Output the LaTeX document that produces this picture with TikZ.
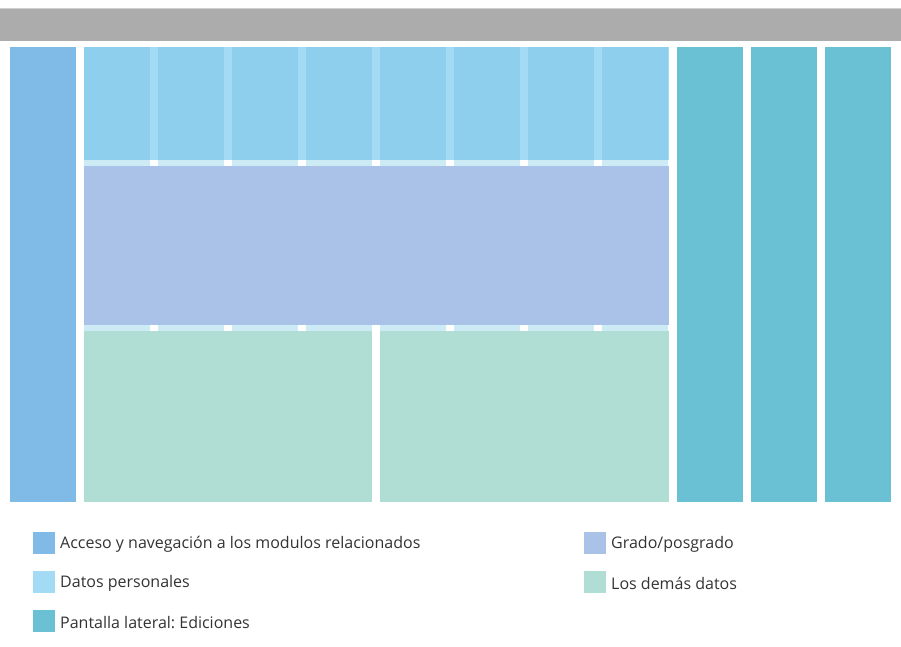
\documentclass[tikz,border=0pt]{standalone}
\usepackage{fontspec}
\setmainfont{Open Sans}
\usetikzlibrary{positioning}
\frenchspacing
\definecolor{barra}{HTML}{ACACAC}
\definecolor{barraborde}{HTML}{CFCFCF}
\definecolor{acceso}{HTML}{7FBBE6}
\definecolor{datos}{HTML}{8FCFEE}
\definecolor{datosclaro}{HTML}{A2DBF3}
\definecolor{franja}{HTML}{CDEBF5}
\definecolor{grado}{HTML}{AAC2E8}
\definecolor{demas}{HTML}{B0DED4}
\definecolor{lateral}{HTML}{6BC1D4}
\tikzset{
  cuadro/.style={minimum size=22pt, inner sep=0pt, outer sep=0pt},
  leyenda/.style={inner sep=0pt, anchor=west, yshift=-1.5pt, text=black!80, font=\fontsize{16}{18}\selectfont},
}
\begin{document}
\begin{tikzpicture}[x=1pt, y=-1pt]
  \useasboundingbox (0,0) rectangle (901,646);
  % barra superior
  \fill[barra] (0,8) rectangle (901,41);
  \draw[barraborde, line width=0.8pt] (0,8.4) -- (901,8.4);
  % navegacion
  \fill[acceso] (10,47) rectangle (76,502);
  % datos personales
  \fill[datosclaro] (84,47) rectangle (669,160);
  \foreach \i in {0,...,7} {
    \fill[datos] ({84+74*\i},47) rectangle +(66,113);
    \fill[franja] ({84+74*\i},160) rectangle +(66,5.5);
    \fill[franja] ({84+74*\i},324.5) rectangle +(66,6);
  }
  % grado / posgrado
  \fill[grado] (84,165.5) rectangle (669,324.5);
  % los demas datos
  \fill[demas] (84,330.5) rectangle (372,502);
  \fill[demas] (380,330.5) rectangle (669,502);
  % pantalla lateral
  \foreach \i in {0,1,2}
    \fill[lateral] ({677+74*\i},47) rectangle +(66,455);

  % leyenda
  \node[cuadro, fill=acceso] (cAcceso) at (44,543) {};
  \node[cuadro, fill=datosclaro, below=17pt of cAcceso] (cDatos) {};
  \node[cuadro, fill=lateral, below=17pt of cDatos] (cLateral) {};
  \node[cuadro, fill=grado] (cGrado) at (595,543) {};
  \node[cuadro, fill=demas, below=17pt of cGrado] (cDemas) {};
  \node[leyenda, right=5pt of cAcceso] (tAcceso) {Acceso y navegación a los modulos relacionados};
  \node[leyenda, right=5pt of cDatos] (tDatos) {Datos personales};
  \node[leyenda, right=5pt of cLateral] (tLateral) {Pantalla lateral: Ediciones};
  \node[leyenda, right=5pt of cGrado] (tGrado) {Grado/posgrado};
  \node[leyenda, right=5pt of cDemas] (tDemas) {Los demás datos};
\end{tikzpicture}
\end{document}
